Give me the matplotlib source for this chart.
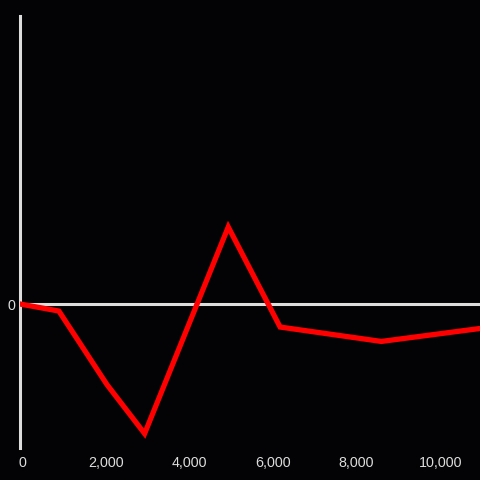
import matplotlib.pyplot as plt
from matplotlib.transforms import ScaledTranslation

x_vals = [0, 930, 2080, 2980, 4980, 6220, 8640, 11000]
y_vals = [0, -4.9, -56, -90, 53.5, -16, -26, -17]
x_ticks = [0, 2000, 4000, 6000, 8000, 10000]

bg = "#030204"
fg = "#dddddd"

plt.rcParams['font.family'] = ['Liberation Sans', 'DejaVu Sans']

fig = plt.figure(figsize=(4.8, 4.8), dpi=100, facecolor=bg)
ax = fig.add_axes([20 / 480, 32 / 480, 460 / 480, 432 / 480], facecolor=bg)

ax.plot(x_vals, y_vals, color="#ff0000", lw=3.8, solid_joinstyle="miter", zorder=3)
ax.axhline(0, color=fg, lw=2.2, zorder=2)

ax.set_xlim(0, 11000)
ax.set_ylim(-100, 200)

for side in ["top", "right", "bottom"]:
    ax.spines[side].set_visible(False)
ax.spines["left"].set_color(fg)
ax.spines["left"].set_linewidth(2.2)

ax.set_xticks(x_ticks)
ax.set_xticklabels([f"{v:,}" for v in x_ticks])
ax.set_yticks([0])
ax.set_yticklabels(["0"])
ax.tick_params(axis="both", length=0, colors=fg, labelsize=10.3)
ax.tick_params(axis="x", pad=6)
ax.tick_params(axis="y", pad=3)

# labels sit a couple of pixels right of their ticks in the original
shift = ScaledTranslation(2 / 100, 0, fig.dpi_scale_trans)
for lbl in ax.get_xticklabels():
    lbl.set_transform(lbl.get_transform() + shift)

fig.savefig("out.png", dpi=100, facecolor=bg)
